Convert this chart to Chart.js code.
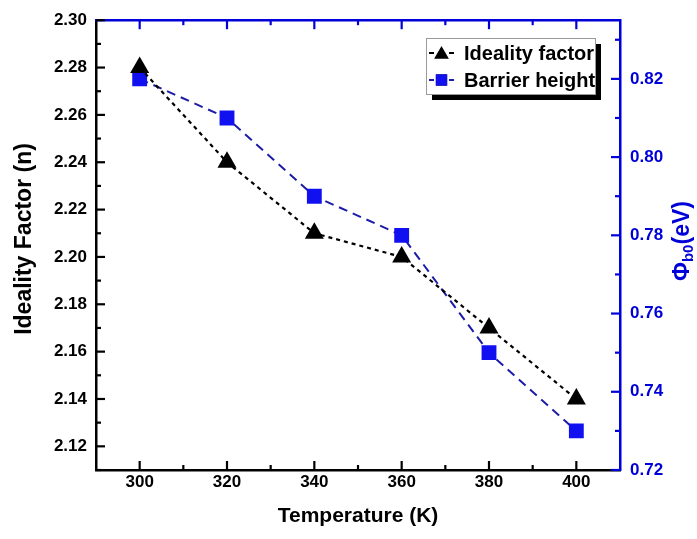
<!DOCTYPE html>
<html><head><meta charset="utf-8">
<script src="https://cdn.jsdelivr.net/npm/chart.js@4.4.1/dist/chart.umd.min.js"></script>
<style>html,body{margin:0;padding:0;background:#fff}#wrap{width:697px;height:539px}</style>
</head><body><div id="wrap"><canvas id="c" width="697" height="539"></canvas></div>
<script>
const temperatures = [300, 320, 340, 360, 380, 400];
const idealityFactor = [2.28, 2.24, 2.21, 2.20, 2.17, 2.14];
const barrierHeight = [0.82, 0.81, 0.79, 0.78, 0.75, 0.73];
const xTicks = [300, 320, 340, 360, 380, 400];
const xMinorTicks = [310, 330, 350, 370, 390];
const yLeftTicks = [2.12, 2.14, 2.16, 2.18, 2.20, 2.22, 2.24, 2.26, 2.28, 2.30];
const yLeftMinorTicks = [2.11, 2.13, 2.15, 2.17, 2.19, 2.21, 2.23, 2.25, 2.27, 2.29];
const yRightTicks = [0.72, 0.74, 0.76, 0.78, 0.80, 0.82];
const yRightMinorTicks = [0.73, 0.75, 0.77, 0.79, 0.81, 0.83];
const seriesLabels = ['Ideality factor', 'Barrier height'];
const leftTitle = 'Ideality Factor (n)';

const FONT = '"Liberation Sans", Arial, sans-serif';
const BLUE = '#0000d8';
const LINEBLUE = '#1c1ca8';
const SQUARE = '#1010f0';

const toTicks = arr => arr.map(v => ({value: v}));

const axisDecor = {
  id: 'axisDecor',
  afterDraw(chart) {
    const {ctx, chartArea: a, scales: {x, y, y1}} = chart;
    ctx.save();
    ctx.lineCap = 'butt';
    // top border blue
    ctx.strokeStyle = BLUE; ctx.lineWidth = 2.5;
    ctx.beginPath(); ctx.moveTo(a.left - 1, a.top); ctx.lineTo(a.right + 1, a.top); ctx.stroke();
    const tick = (x1, y1_, x2, y2, color) => {
      ctx.strokeStyle = color; ctx.lineWidth = 2.2;
      ctx.beginPath(); ctx.moveTo(x1, y1_); ctx.lineTo(x2, y2); ctx.stroke();
    };
    const MAJ = 9, MIN = 5;
    xTicks.forEach(v => { const p = x.getPixelForValue(v);
      tick(p, a.bottom, p, a.bottom - MAJ, '#000'); tick(p, a.top, p, a.top + MAJ, BLUE); });
    xMinorTicks.forEach(v => { const p = x.getPixelForValue(v);
      tick(p, a.bottom, p, a.bottom - MIN, '#000'); tick(p, a.top, p, a.top + MIN, BLUE); });
    yLeftTicks.forEach(v => { const p = y.getPixelForValue(v); tick(a.left, p, a.left + MAJ, p, '#000'); });
    yLeftMinorTicks.forEach(v => { const p = y.getPixelForValue(v); tick(a.left, p, a.left + MIN, p, '#000'); });
    yRightTicks.forEach(v => { const p = y1.getPixelForValue(v); tick(a.right, p, a.right - MAJ, p, BLUE); });
    yRightMinorTicks.forEach(v => { const p = y1.getPixelForValue(v); tick(a.right, p, a.right - MIN, p, BLUE); });

    // left axis title
    ctx.save();
    ctx.translate(25, 239);
    ctx.rotate(-Math.PI / 2);
    ctx.fillStyle = '#000'; ctx.font = 'bold 23px ' + FONT;
    ctx.textAlign = 'center'; ctx.textBaseline = 'middle';
    ctx.fillText(leftTitle, 0, 0);
    ctx.restore();

    // right axis title: Φb0(eV)
    ctx.save();
    ctx.translate(683, 241);
    ctx.rotate(-Math.PI / 2);
    ctx.fillStyle = BLUE;
    ctx.textBaseline = 'middle';
    const big = 'bold 23px ' + FONT, small = 'bold 15px ' + FONT;
    ctx.font = big; const w1 = ctx.measureText('\u03A6').width;
    ctx.font = small; const w2 = ctx.measureText('b0').width;
    ctx.font = big; const w3 = ctx.measureText('(eV)').width;
    let sx = -(w1 + w2 + w3) / 2;
    ctx.textAlign = 'left';
    ctx.font = big; ctx.fillText('\u03A6', sx, 0); sx += w1;
    ctx.font = small; ctx.fillText('b0', sx, 6); sx += w2;
    ctx.font = big; ctx.fillText('(eV)', sx, 0);
    ctx.restore();

    // legend
    const bx = 426, by = 38, bw = 169, bh = 56;
    ctx.fillStyle = '#000'; ctx.fillRect(bx + 6, by + 6, bw, bh);
    ctx.fillStyle = '#fff'; ctx.fillRect(bx, by, bw, bh);
    ctx.strokeStyle = '#9a9a9a'; ctx.lineWidth = 1; ctx.strokeRect(bx + 0.5, by + 0.5, bw, bh);
    const rows = [53, 80];
    chart.data.datasets.forEach((ds, i) => {
      const ry = rows[i];
      ctx.strokeStyle = ds.borderColor; ctx.lineWidth = 2;
      ctx.setLineDash([]);
      ctx.beginPath(); ctx.moveTo(429, ry); ctx.lineTo(434, ry); ctx.moveTo(449, ry); ctx.lineTo(454, ry); ctx.stroke();
      Chart.helpers.drawPoint(ctx, {pointStyle: ds.pointStyle, radius: ds.pointStyle === 'triangle' ? 8.5 : 8, rotation: 0, borderWidth: 0}, 441.5, ry + (ds.pointStyle === 'triangle' ? 1.5 : 0));
      ctx.fillStyle = ds.pointBackgroundColor;
      ctx.fill();
      ctx.fillStyle = '#000'; ctx.font = 'bold 20px ' + FONT;
      ctx.textAlign = 'left'; ctx.textBaseline = 'middle';
      ctx.fillText(ds.label, 464, ry + 1);
    });
    ctx.restore();
  }
};

new Chart(document.getElementById('c'), {
  type: 'line',
  data: {
    datasets: [
      {
        label: seriesLabels[0],
        data: temperatures.map((t, i) => ({x: t, y: idealityFactor[i]})),
        yAxisID: 'y',
        borderColor: '#000', borderWidth: 2.2, borderDash: [4, 4],
        pointStyle: 'triangle', pointRadius: 11, pointBackgroundColor: '#000', pointBorderColor: '#000', pointBorderWidth: 0,
        fill: false, tension: 0
      },
      {
        label: seriesLabels[1],
        data: temperatures.map((t, i) => ({x: t, y: barrierHeight[i]})),
        yAxisID: 'y1',
        borderColor: LINEBLUE, borderWidth: 2, borderDash: [9, 6],
        pointStyle: 'rect', pointRadius: 10.5, pointBackgroundColor: SQUARE, pointBorderColor: SQUARE, pointBorderWidth: 0,
        fill: false, tension: 0
      }
    ]
  },
  options: {
    responsive: false, animation: false, devicePixelRatio: 1,
    layout: {padding: {top: 17, left: 0, right: 0, bottom: 0}},
    plugins: {legend: {display: false}, tooltip: {enabled: false}},
    scales: {
      x: {
        type: 'linear', position: 'bottom', min: 290, max: 410,
        afterBuildTicks: s => { s.ticks = toTicks(xTicks); },
        afterFit: s => { s.height = 69; },
        grid: {display: false, drawTicks: false},
        border: {display: true, color: '#000', width: 2.5},
        ticks: {color: '#000', font: {family: FONT, size: 17, weight: 'bold'}, padding: 2},
        title: {display: true, text: 'Temperature (K)', color: '#000', font: {family: FONT, size: 21, weight: 'bold'}, padding: {top: 10, bottom: 10}}
      },
      y: {
        type: 'linear', position: 'left', min: 2.11, max: 2.30,
        afterBuildTicks: s => { s.ticks = toTicks(yLeftTicks); },
        afterFit: s => { s.width = 96; },
        grid: {display: false, drawTicks: false},
        border: {display: true, color: '#000', width: 2.5},
        ticks: {color: '#000', font: {family: FONT, size: 17, weight: 'bold'}, padding: 9, callback: v => v.toFixed(2)}
      },
      y1: {
        type: 'linear', position: 'right', min: 0.72, max: 0.835,
        afterBuildTicks: s => { s.ticks = toTicks(yRightTicks); },
        afterFit: s => { s.width = 77; },
        grid: {display: false, drawTicks: false},
        border: {display: true, color: BLUE, width: 2.5},
        ticks: {color: BLUE, font: {family: FONT, size: 17, weight: 'bold'}, padding: 10, callback: v => v.toFixed(2)}
      }
    }
  },
  plugins: [axisDecor]
});
</script></body></html>
